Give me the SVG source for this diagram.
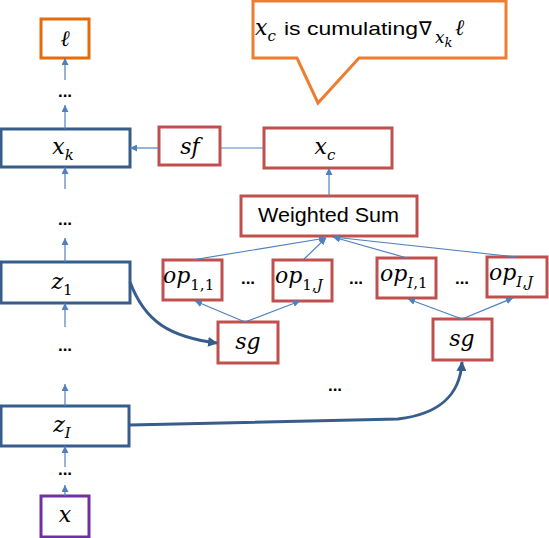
<svg xmlns="http://www.w3.org/2000/svg" width="549" height="538" viewBox="0 0 549 538">
<defs>
<marker id="ah" viewBox="0 0 10 10" refX="10" refY="5" markerWidth="7" markerHeight="7" markerUnits="userSpaceOnUse" orient="auto"><path d="M0,0 L10,5 L0,10 z" fill="#4F81BD"/></marker>
<marker id="ahb" viewBox="0 0 10 10" refX="9" refY="5" markerWidth="10" markerHeight="10" markerUnits="userSpaceOnUse" orient="auto"><path d="M0,0 L10,5 L0,10 z" fill="#385D8A"/></marker>
</defs>
<style>
.blue{fill:#fff;stroke:#385D8A;stroke-width:3}
.red{fill:#fff;stroke:#C0504D;stroke-width:3}
.m{font-family:"DejaVu Serif","Liberation Serif",serif;font-style:italic;font-size:22px;fill:#000}
.s{font-size:15px}
.u{font-style:normal}
.t{font-family:"Liberation Sans","Open Sans",sans-serif;font-size:19px;fill:#000}
.d{font-family:"Liberation Sans",sans-serif;font-size:17px;font-weight:bold;fill:#000}
.c{stroke:#4F81BD;stroke-width:1.2;fill:none}
.th{stroke:#385D8A;stroke-width:3;fill:none}
</style>
<g id="callout">
<path d="M253,1 H506 V58 H359 L318,103 L297,58 H253 Z" fill="#fff" stroke="#ED7D31" stroke-width="3"/>
<text x="255" y="35" class="m">x<tspan class="s" dy="6">c</tspan></text>
<text x="284" y="35" class="t" textLength="134" lengthAdjust="spacingAndGlyphs">is cumulating</text>
<text x="419" y="35" style="font-family:'DejaVu Sans',sans-serif;font-size:19px;fill:#000">∇</text>
<text x="435" y="43" class="m" style="font-size:17px">x<tspan style="font-size:13px" dy="4">k</tspan></text>
<text x="455" y="35" class="m">ℓ</text>
</g>
<g id="loss"><rect x="41" y="19" width="48" height="39" class="blue" style="stroke:#E46C0A"/><text x="65" y="46" class="m" text-anchor="middle">ℓ</text></g>
<g id="xk"><rect x="1" y="129" width="129" height="38" class="blue"/><text x="63" y="154" class="m" text-anchor="middle">x<tspan class="s" dy="6">k</tspan></text></g>
<g id="sf"><rect x="159" y="127" width="61" height="38" class="red"/><text x="190" y="154" class="m" text-anchor="middle">sf</text></g>
<g id="xc"><rect x="264" y="128" width="128" height="40" class="red"/><text x="325" y="154" class="m" text-anchor="middle">x<tspan class="s" dy="6">c</tspan></text></g>
<g id="wsum"><rect x="241" y="196" width="176" height="40" class="red"/><text x="258" y="222" class="t" style="font-size:20px" textLength="141" lengthAdjust="spacingAndGlyphs">Weighted Sum</text></g>
<g id="op11"><rect x="163" y="260" width="59" height="40" class="red"/><text x="163" y="283" class="m">op<tspan class="s u" dy="7">1,1</tspan></text></g>
<g id="op1J"><rect x="273" y="260" width="59" height="41" class="red"/><text x="275" y="283" class="m">op<tspan class="s" dy="7"><tspan class="u">1,</tspan>J</tspan></text></g>
<g id="opI1"><rect x="377" y="258" width="59" height="40" class="red"/><text x="380" y="281" class="m">op<tspan class="s" dy="7">I<tspan class="u">,1</tspan></tspan></text></g>
<g id="opIJ"><rect x="487" y="257" width="60" height="40" class="red"/><text x="489" y="280" class="m">op<tspan class="s" dy="7">I<tspan class="u">,</tspan>J</tspan></text></g>
<g id="sg1"><rect x="218" y="322" width="60" height="41" class="red"/><text x="248" y="349" class="m" text-anchor="middle">sg</text></g>
<g id="sg2"><rect x="433" y="319" width="59" height="41" class="red"/><text x="462" y="346" class="m" text-anchor="middle">sg</text></g>
<g id="z1"><rect x="1" y="262" width="129" height="41" class="blue"/><text x="62" y="289" class="m" text-anchor="middle">z<tspan class="s u" dy="6">1</tspan></text></g>
<g id="zI"><rect x="1" y="406" width="128" height="40" class="blue"/><text x="62" y="432" class="m" text-anchor="middle">z<tspan class="s" dy="6">I</tspan></text></g>
<g id="x"><rect x="41" y="496" width="48" height="41" class="blue" style="stroke:#7030A0"/><text x="65" y="522" class="m" text-anchor="middle">x</text></g>
<g id="dots" class="d" text-anchor="middle">
<text x="65" y="97">...</text><text x="65" y="225">...</text><text x="65" y="351">...</text><text x="65" y="475">...</text>
<text x="248" y="284">...</text><text x="356" y="284">...</text><text x="462" y="284">...</text><text x="335" y="391">...</text>
</g>
<g id="connectors">
<line x1="65" y1="80" x2="65" y2="58" class="c" marker-end="url(#ah)"/>
<line x1="65" y1="129" x2="65" y2="105" class="c" marker-end="url(#ah)"/>
<line x1="65" y1="189" x2="65" y2="167" class="c" marker-end="url(#ah)"/>
<line x1="65" y1="262" x2="65" y2="238" class="c" marker-end="url(#ah)"/>
<line x1="65" y1="327" x2="65" y2="303" class="c" marker-end="url(#ah)"/>
<line x1="65" y1="406" x2="65" y2="384" class="c" marker-end="url(#ah)"/>
<line x1="65" y1="467" x2="65" y2="446" class="c" marker-end="url(#ah)"/>
<line x1="65" y1="496" x2="65" y2="485" class="c" marker-end="url(#ah)"/>
<line x1="264" y1="148" x2="220" y2="148" class="c"/>
<line x1="159" y1="148" x2="130" y2="148" class="c" marker-end="url(#ah)"/>
<line x1="329" y1="196" x2="329" y2="168" class="c" marker-end="url(#ah)"/>
<line x1="192" y1="260" x2="326" y2="238" class="c" marker-end="url(#ah)"/>
<line x1="303" y1="260" x2="326" y2="238" class="c" marker-end="url(#ah)"/>
<line x1="407" y1="258" x2="333" y2="237" class="c" marker-end="url(#ah)"/>
<line x1="517" y1="257" x2="333" y2="237" class="c" marker-end="url(#ah)"/>
<line x1="245" y1="322" x2="195" y2="301" class="c" marker-end="url(#ah)"/>
<line x1="245" y1="322" x2="300" y2="301" class="c" marker-end="url(#ah)"/>
<line x1="462" y1="319" x2="408" y2="299" class="c" marker-end="url(#ah)"/>
<line x1="462" y1="319" x2="513" y2="298" class="c" marker-end="url(#ah)"/>
<path d="M130,282 C145,322 170,337 217,343" class="th" marker-end="url(#ahb)"/>
<path d="M130,425 L398,419 C440,414 460,395 462,362" class="th" marker-end="url(#ahb)"/>
</g>
</svg>
